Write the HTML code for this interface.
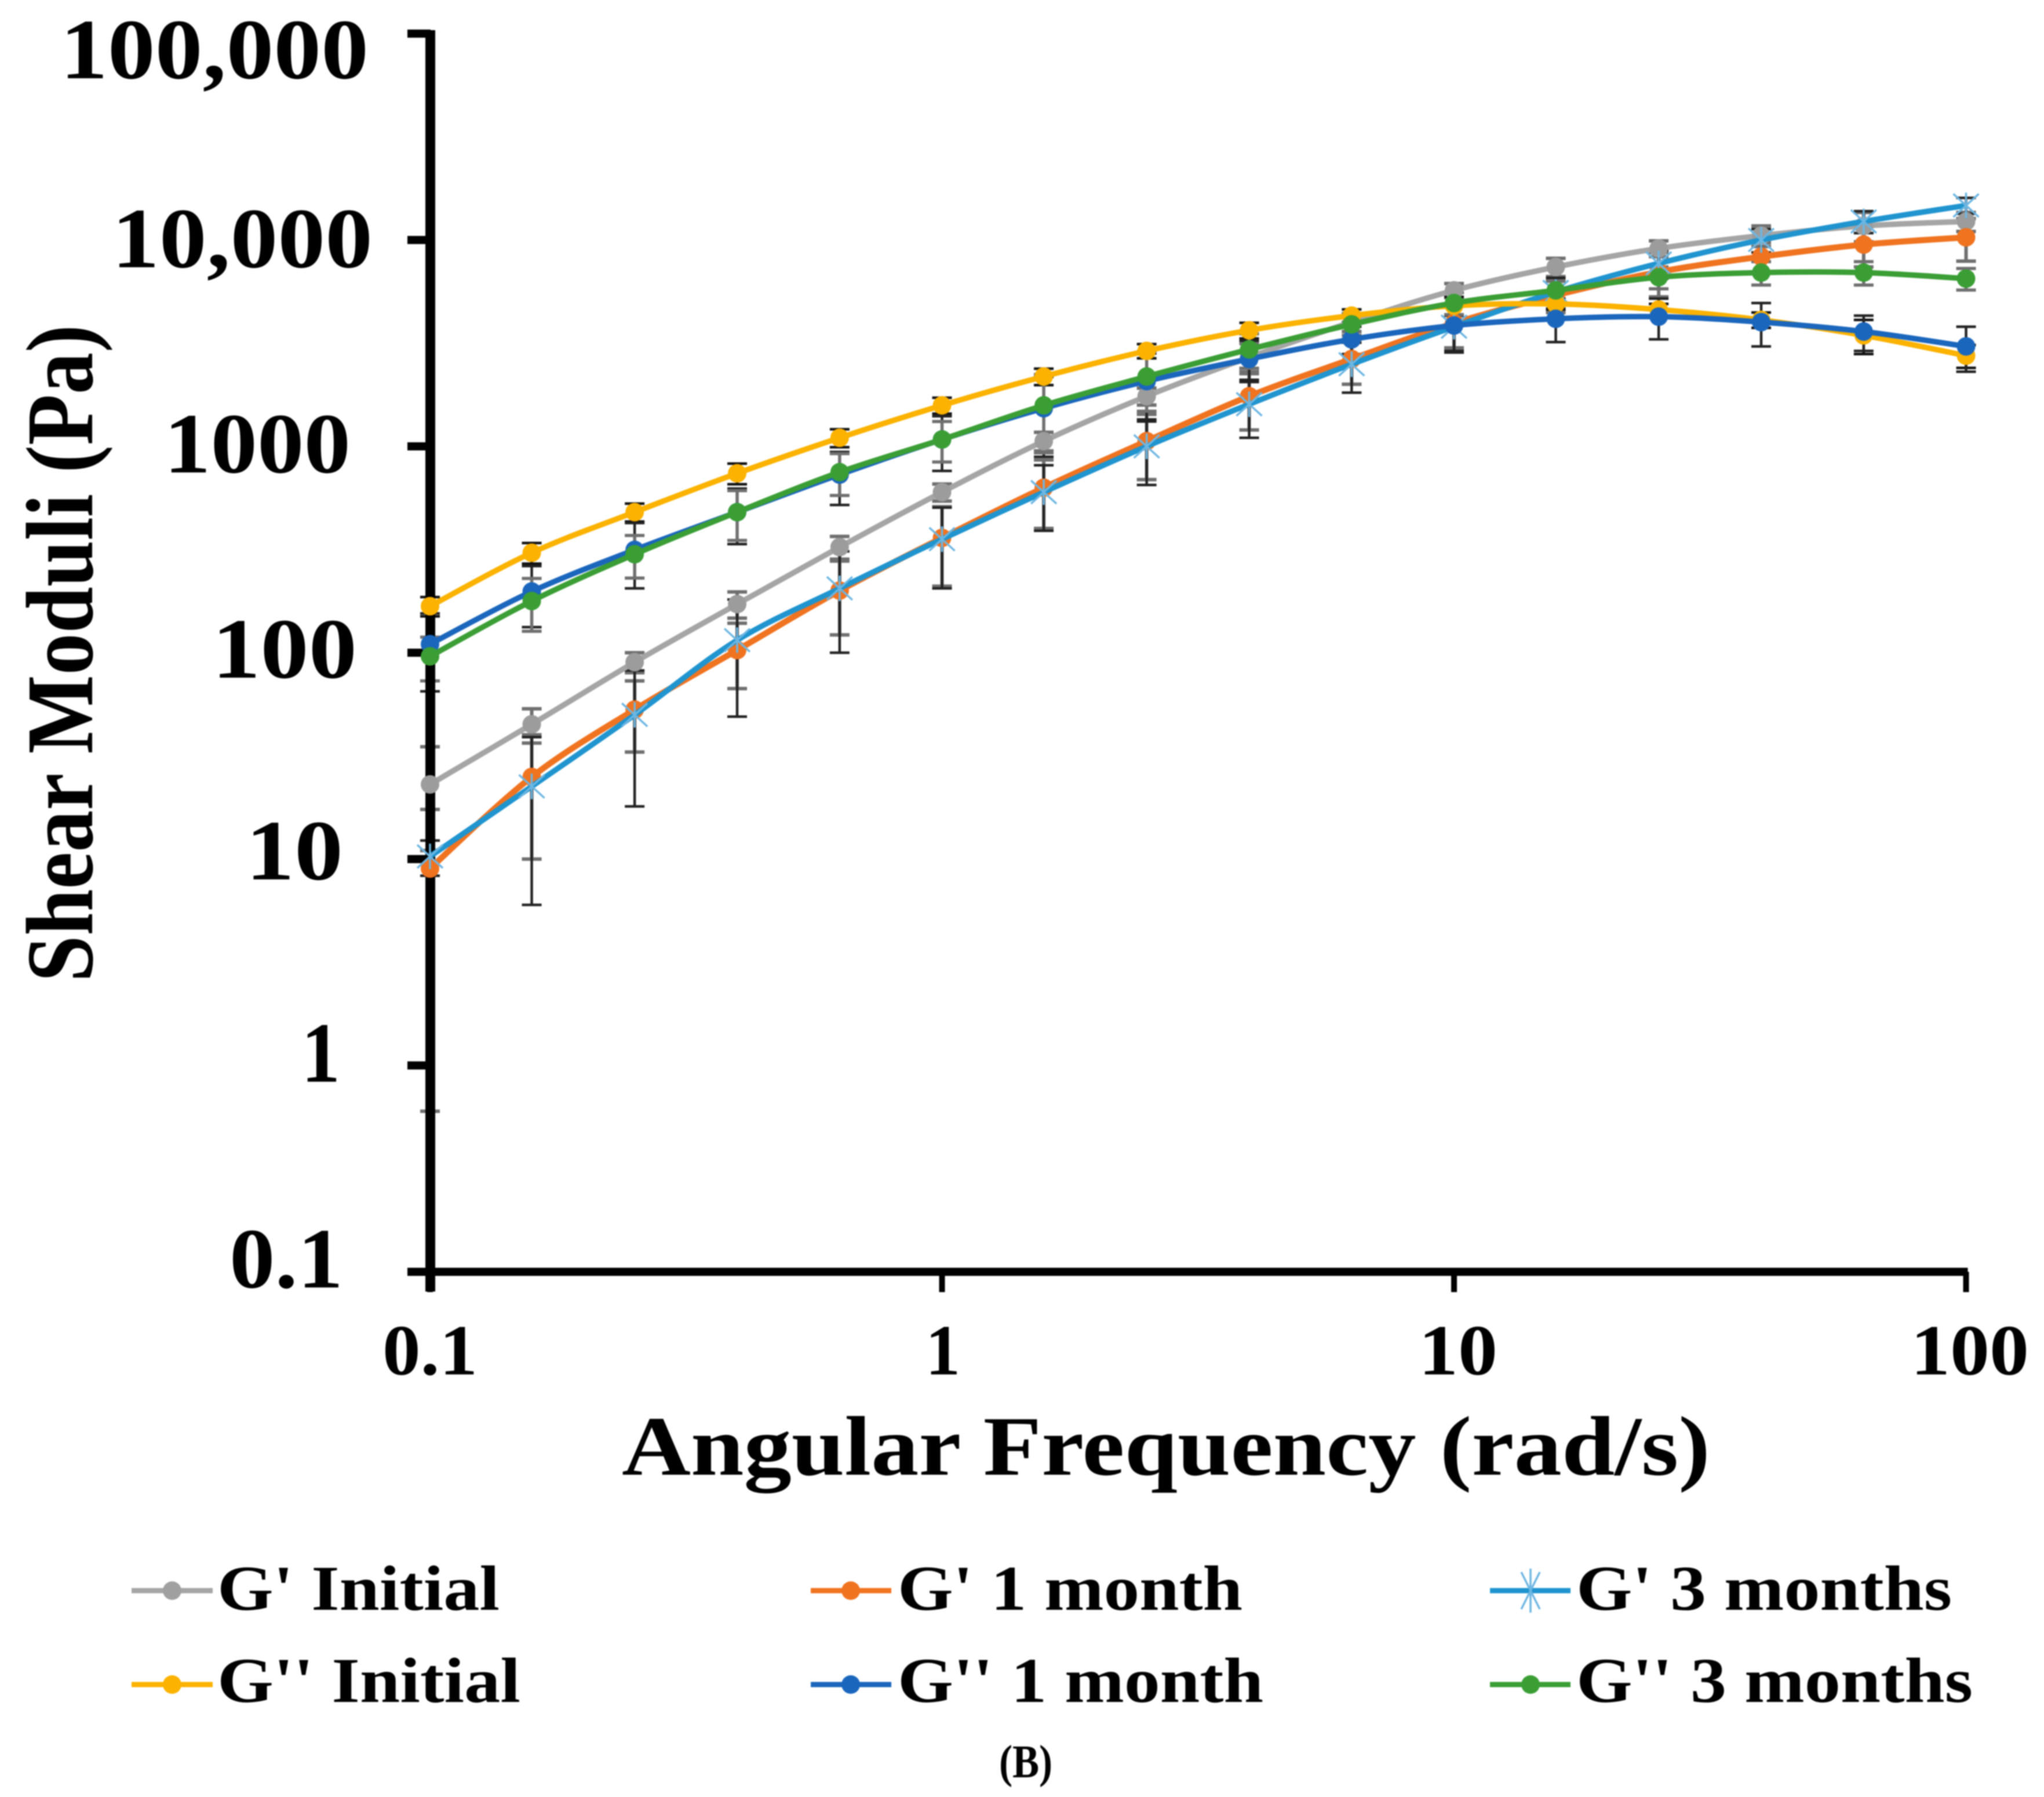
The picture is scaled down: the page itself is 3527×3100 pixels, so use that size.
<!DOCTYPE html>
<html lang="en">
<head>
<meta charset="utf-8">
<title>Shear Moduli vs Angular Frequency</title>
<style>
html,body{margin:0;padding:0;background:#fff}
svg{display:block;filter:blur(1px)}
text{font-family:"Liberation Serif",serif;font-weight:bold;fill:#000}
</style>
</head>
<body>
<svg id="chart" xmlns="http://www.w3.org/2000/svg" width="3527" height="3100" viewBox="0 0 3527 3100">
  <rect width="3527" height="3100" fill="#fff"/>
  <g id="errors"></g>
  <g id="axes"></g>
  <g id="series"></g>

  <g>
    <text x="104" y="135" font-size="148" textLength="532" lengthAdjust="spacingAndGlyphs">100,000</text>
    <text x="193" y="461" font-size="148" textLength="450" lengthAdjust="spacingAndGlyphs">10,000</text>
    <text x="283" y="815" font-size="148" textLength="322" lengthAdjust="spacingAndGlyphs">1000</text>
    <text x="366" y="1169" font-size="148" textLength="250" lengthAdjust="spacingAndGlyphs">100</text>
    <text x="424" y="1517" font-size="148" textLength="168" lengthAdjust="spacingAndGlyphs">10</text>
    <text x="520" y="1866" font-size="148" textLength="67" lengthAdjust="spacingAndGlyphs">1</text>
    <text x="396" y="2221" font-size="148" textLength="196" lengthAdjust="spacingAndGlyphs">0.1</text>
  </g>

  <g>
    <text x="660" y="2371" font-size="124" textLength="164" lengthAdjust="spacingAndGlyphs">0.1</text>
    <text x="1597" y="2371" font-size="124" textLength="60" lengthAdjust="spacingAndGlyphs">1</text>
    <text x="2448" y="2371" font-size="124" textLength="136" lengthAdjust="spacingAndGlyphs">10</text>
    <text x="3297" y="2371" font-size="124" textLength="204" lengthAdjust="spacingAndGlyphs">100</text>
  </g>

  <text x="1073" y="2544" font-size="146" textLength="1878" lengthAdjust="spacingAndGlyphs">Angular Frequency (rad/s)</text>
  <text transform="translate(159 1694) rotate(-90)" x="0" y="0" font-size="165" textLength="1134" lengthAdjust="spacingAndGlyphs">Shear Moduli (Pa)</text>

  <g>
    <g>
      <line x1="227" x2="367" y1="2744" y2="2744" stroke="#a5a5a5" stroke-width="9"/>
      <circle cx="297" cy="2744" r="16" fill="#a0a0a0"/>
      <text x="375" y="2777" font-size="110" textLength="487" lengthAdjust="spacingAndGlyphs">G' Initial</text>
    </g>
    <g>
      <line x1="1399" x2="1538" y1="2744" y2="2744" stroke="#f0731f" stroke-width="9"/>
      <circle cx="1468" cy="2744" r="16" fill="#f0731f"/>
      <text x="1549" y="2777" font-size="110" textLength="595" lengthAdjust="spacingAndGlyphs">G' 1 month</text>
    </g>
    <g>
      <line x1="2571" x2="2710" y1="2744" y2="2744" stroke="#1f94cf" stroke-width="9"/>
      <path d="M2641 2706V2782M2625 2712L2657 2776M2657 2712L2625 2776" stroke="#6db6e2" stroke-width="3.5" fill="none"/>
      <text x="2720" y="2777" font-size="110" textLength="648" lengthAdjust="spacingAndGlyphs">G' 3 months</text>
    </g>
    <g>
      <line x1="227" x2="367" y1="2906" y2="2906" stroke="#fbb200" stroke-width="9"/>
      <circle cx="297" cy="2906" r="16" fill="#fbb200"/>
      <text x="375" y="2936" font-size="110" textLength="523" lengthAdjust="spacingAndGlyphs">G'' Initial</text>
    </g>
    <g>
      <line x1="1399" x2="1538" y1="2906" y2="2906" stroke="#1a66bd" stroke-width="9"/>
      <circle cx="1468" cy="2906" r="16" fill="#1a66bd"/>
      <text x="1549" y="2936" font-size="110" textLength="631" lengthAdjust="spacingAndGlyphs">G'' 1 month</text>
    </g>
    <g>
      <line x1="2571" x2="2710" y1="2906" y2="2906" stroke="#3a9e35" stroke-width="9"/>
      <circle cx="2641" cy="2906" r="16" fill="#3a9e35"/>
      <text x="2720" y="2936" font-size="110" textLength="684" lengthAdjust="spacingAndGlyphs">G'' 3 months</text>
    </g>
  </g>

  <text x="1724" y="3066" font-size="80" textLength="92" lengthAdjust="spacingAndGlyphs">(B)</text>
</svg>

<script>
const frequencies = [0.1, 0.158, 0.251, 0.398, 0.631, 1, 1.58, 2.51, 3.98, 6.31, 10, 15.8, 25.1, 39.8, 63.1, 100];
const xTicks = [0.1, 1, 10, 100];
const yTicks = [0.1, 1, 10, 100, 1000, 10000, 100000];

const gpInitial = [23, 45, 90, 172, 325, 600, 1060, 1750, 2700, 4000, 5700, 7400, 9100, 10500, 11700, 12300];
const gp1Month = [9, 25, 53, 103, 200, 360, 630, 1060, 1750, 2650, 3950, 5400, 7000, 8300, 9500, 10300];
const gp3Months = [10.3, 22.5, 50, 115, 205, 355, 600, 1000, 1600, 2500, 3800, 5600, 7700, 10000, 12300, 14700];
const gppInitial = [168, 305, 480, 740, 1100, 1580, 2180, 2900, 3650, 4300, 4800, 4900, 4600, 4100, 3450, 2750];
const gpp1Month = [110, 198, 315, 480, 730, 1080, 1530, 2070, 2650, 3300, 3850, 4150, 4250, 4000, 3600, 3050];
const gpp3Months = [96, 178, 300, 480, 750, 1080, 1580, 2180, 2950, 3900, 4950, 5700, 6600, 6950, 6950, 6500];

const gpInitialErr = [12, 8.5, 10, 25, 41, 57, 110, 165, 450, 400, 450, 750, 800, 1200, 1900, 1300];
const gp1MonthErr = [8.4, 15, 20, 36, 78, 150, 230, 370, 550, 650, 950, 950, 1700, 1400, 2100, 2400];
const gp3MonthsErr = [2, 16.5, 32, 66, 105, 150, 210, 350, 500, 680, 950, 950, 1200, 1300, 1500, 1300];
const gppInitialErr = [18, 35, 48, 85, 110, 140, 200, 230, 320, 310, 500, 300, 300, 350, 650, 350];
const gpp1MonthErr = [45, 65, 110, 144, 210, 320, 640, 750, 600, 500, 950, 950, 950, 950, 700, 750];
const gpp3MonthsErr = [23, 51, 70, 130, 172, 240, 650, 700, 560, 450, 600, 600, 800, 900, 900, 780];

const NS = 'http://www.w3.org/2000/svg';
const xScale = function (w) { return 742 + 883.5 * (Math.log10(w) + 1); };
const yScale = function (v) { return 2194 - 356 * (Math.log10(v) + 1); };

function make(tag, attrs, parent) {
  const el = document.createElementNS(NS, tag);
  Object.keys(attrs).forEach(function (k) { el.setAttribute(k, attrs[k]); });
  parent.appendChild(el);
  return el;
}

function smoothPath(pts) {
  let d = 'M' + pts[0][0] + ' ' + pts[0][1];
  for (let i = 0; i < pts.length - 1; i++) {
    const p0 = pts[Math.max(0, i - 1)];
    const p1 = pts[i];
    const p2 = pts[i + 1];
    const p3 = pts[Math.min(pts.length - 1, i + 2)];
    const c1x = p1[0] + (p2[0] - p0[0]) / 6;
    const c1y = p1[1] + (p2[1] - p0[1]) / 6;
    const c2x = p2[0] - (p3[0] - p1[0]) / 6;
    const c2y = p2[1] - (p3[1] - p1[1]) / 6;
    d += 'C' + c1x + ' ' + c1y + ' ' + c2x + ' ' + c2y + ' ' + p2[0] + ' ' + p2[1];
  }
  return d;
}

const axes = document.getElementById('axes');
const errors = document.getElementById('errors');
const seriesLayer = document.getElementById('series');

yTicks.forEach(function (t) {
  const tick = make('rect', { x: 703, y: yScale(t) - 7, width: 40, height: 14, fill: '#000' }, axes);
  
  
});
xTicks.forEach(function (t) {
  const tick = make('rect', { x: xScale(t) - 5, y: yScale(0.1), width: 10, height: 35, fill: '#000' }, axes);
  
  
});
const yAxisLine = make('rect', { x: 734, y: yScale(100000) - 6, width: 17, height: 2228 - yScale(100000) + 6, fill: '#000' }, axes);


const xAxisLine = make('rect', { x: 703, y: yScale(0.1) - 7, width: xScale(100) + 3 - 703, height: 14, fill: '#000' }, axes);



const seriesList = [
  { name: 'g-prime-initial', values: gpInitial, err: gpInitialErr, color: '#a5a5a5', markerColor: '#9c9c9c', errColor: '#6f6f6f', errWidth: 6, lineWidth: 9.5, star: false },
  { name: 'g-prime-1-month', values: gp1Month, err: gp1MonthErr, color: '#f0731f', markerColor: '#f0731f', errColor: '#6f6f6f', errWidth: 6, lineWidth: 10.5, star: false },
  { name: 'g-prime-3-months', values: gp3Months, err: gp3MonthsErr, color: '#1f94cf', markerColor: '#6db6e2', errColor: '#222', errWidth: 4.5, lineWidth: 9.5, star: true },
  { name: 'g-double-prime-initial', values: gppInitial, err: gppInitialErr, color: '#fbb200', markerColor: '#fbb200', errColor: '#111', errWidth: 4.5, lineWidth: 9.5, star: false },
  { name: 'g-double-prime-1-month', values: gpp1Month, err: gpp1MonthErr, color: '#1a66bd', markerColor: '#1a66bd', errColor: '#222', errWidth: 4.5, lineWidth: 9.5, star: false },
  { name: 'g-double-prime-3-months', values: gpp3Months, err: gpp3MonthsErr, color: '#3a9e35', markerColor: '#3a9e35', errColor: '#6f6f6f', errWidth: 5.5, lineWidth: 9.5, star: false }
];

seriesList.forEach(function (s) {
  s.values.forEach(function (v, i) {
    const x = xScale(frequencies[i]);
    const top = yScale(v + s.err[i]);
    const bottom = yScale(Math.max(v - s.err[i], 0.01));
    const bar = make('path', {
      d: 'M' + x + ' ' + top + 'V' + bottom + 'M' + (x - 17) + ' ' + top + 'H' + (x + 17) + 'M' + (x - 17) + ' ' + bottom + 'H' + (x + 17),
      stroke: s.errColor, 'stroke-width': s.errWidth, fill: 'none'
    }, errors);
    
    
  });
});

seriesList.forEach(function (s) {
  const group = make('g', {}, seriesLayer);
  
  
  const pts = s.values.map(function (v, i) { return [xScale(frequencies[i]), yScale(v)]; });
  const line = make('path', { d: smoothPath(pts), fill: 'none', stroke: s.color, 'stroke-width': s.lineWidth, 'stroke-linejoin': 'round' }, group);
  
  
  pts.forEach(function (p) {
    if (s.star) {
      const star = make('path', {
        d: 'M' + p[0] + ' ' + (p[1] - 22) + 'V' + (p[1] + 22) +
           'M' + (p[0] - 22) + ' ' + (p[1] - 20) + 'L' + (p[0] + 22) + ' ' + (p[1] + 20) +
           'M' + (p[0] + 22) + ' ' + (p[1] - 20) + 'L' + (p[0] - 22) + ' ' + (p[1] + 20),
        stroke: s.markerColor, 'stroke-width': 3.5, fill: 'none'
      }, group);
      
      
    } else {
      const dot = make('circle', { cx: p[0], cy: p[1], r: 16, fill: s.markerColor }, group);
      
      
    }
  });
});
</script>
</body>
</html>
